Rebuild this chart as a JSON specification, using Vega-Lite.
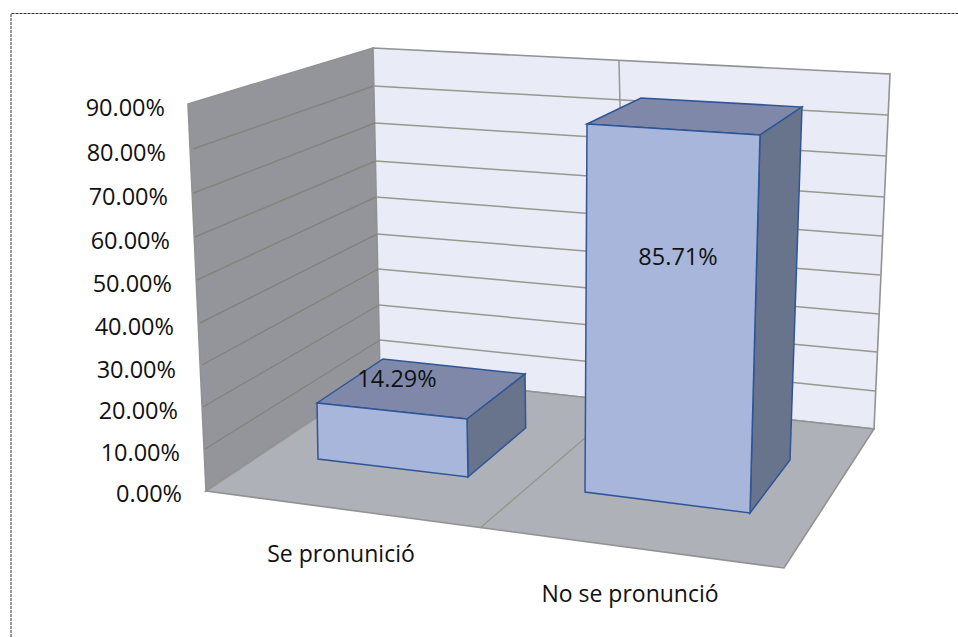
{
"$schema":"https://vega.github.io/schema/vega-lite/v6.json",
"width":958,"height":637,"padding":0,"autosize":{"type":"none"},
"background":"white","view":{"stroke":null},
"config":{"font":"Open Sans"},
"datasets":{
"walls":[
{"face":"left wall","order":1,"x":188,"y":104},{"face":"left wall","order":2,"x":373,"y":48},{"face":"left wall","order":3,"x":380,"y":375},{"face":"left wall","order":4,"x":206,"y":491},
{"face":"back wall","order":1,"x":373,"y":48},{"face":"back wall","order":2,"x":890,"y":74},{"face":"back wall","order":3,"x":874,"y":429},{"face":"back wall","order":4,"x":380,"y":375},
{"face":"floor","order":1,"x":206,"y":491},{"face":"floor","order":2,"x":380,"y":375},{"face":"floor","order":3,"x":874,"y":429},{"face":"floor","order":4,"x":784,"y":568}
],
"gridLeft":[
{"g":"L80","order":1,"x":193,"y":149},{"g":"L80","order":2,"x":373.5,"y":86},
{"g":"L70","order":1,"x":193.5,"y":193},{"g":"L70","order":2,"x":375,"y":123},
{"g":"L60","order":1,"x":195,"y":237},{"g":"L60","order":2,"x":375.7,"y":161},
{"g":"L50","order":1,"x":197,"y":280},{"g":"L50","order":2,"x":376,"y":197},
{"g":"L40","order":1,"x":200,"y":323},{"g":"L40","order":2,"x":377,"y":234},
{"g":"L30","order":1,"x":202,"y":365},{"g":"L30","order":2,"x":378,"y":269},
{"g":"L20","order":1,"x":203,"y":407},{"g":"L20","order":2,"x":379,"y":305},
{"g":"L10","order":1,"x":205,"y":449},{"g":"L10","order":2,"x":380,"y":340}
],
"grid":[
{"g":"B80","order":1,"x":373.5,"y":86},{"g":"B80","order":2,"x":888,"y":115},
{"g":"B70","order":1,"x":375,"y":123},{"g":"B70","order":2,"x":886,"y":156},
{"g":"B60","order":1,"x":375.7,"y":161},{"g":"B60","order":2,"x":884,"y":197},
{"g":"B50","order":1,"x":376,"y":197},{"g":"B50","order":2,"x":882,"y":236},
{"g":"B40","order":1,"x":377,"y":234},{"g":"B40","order":2,"x":880,"y":275},
{"g":"B30","order":1,"x":378,"y":269},{"g":"B30","order":2,"x":879,"y":314},
{"g":"B20","order":1,"x":379,"y":305},{"g":"B20","order":2,"x":877,"y":352},
{"g":"B10","order":1,"x":380,"y":340},{"g":"B10","order":2,"x":875,"y":391},
{"g":"Bmid","order":1,"x":619,"y":61},{"g":"Bmid","order":2,"x":627,"y":402},
{"g":"Fmid","order":1,"x":627,"y":402},{"g":"Fmid","order":2,"x":480,"y":528}
],
"bars":[
{"face":"b1 top","kind":"top","order":1,"x":317,"y":403},{"face":"b1 top","kind":"top","order":2,"x":383,"y":359},{"face":"b1 top","kind":"top","order":3,"x":525,"y":374},{"face":"b1 top","kind":"top","order":4,"x":467,"y":419},
{"face":"b1 side","kind":"side","order":1,"x":467,"y":419},{"face":"b1 side","kind":"side","order":2,"x":525,"y":374},{"face":"b1 side","kind":"side","order":3,"x":525.7,"y":428},{"face":"b1 side","kind":"side","order":4,"x":468,"y":477},
{"face":"b1 front","kind":"front","order":1,"x":317,"y":403},{"face":"b1 front","kind":"front","order":2,"x":467,"y":419},{"face":"b1 front","kind":"front","order":3,"x":468,"y":477},{"face":"b1 front","kind":"front","order":4,"x":318,"y":459},
{"face":"b2 top","kind":"top","order":1,"x":587,"y":124},{"face":"b2 top","kind":"top","order":2,"x":641,"y":98},{"face":"b2 top","kind":"top","order":3,"x":802,"y":107},{"face":"b2 top","kind":"top","order":4,"x":760,"y":135},
{"face":"b2 side","kind":"side","order":1,"x":760,"y":135},{"face":"b2 side","kind":"side","order":2,"x":802,"y":107},{"face":"b2 side","kind":"side","order":3,"x":790,"y":460},{"face":"b2 side","kind":"side","order":4,"x":750,"y":513},
{"face":"b2 front","kind":"front","order":1,"x":587,"y":124},{"face":"b2 front","kind":"front","order":2,"x":760,"y":135},{"face":"b2 front","kind":"front","order":3,"x":750,"y":513},{"face":"b2 front","kind":"front","order":4,"x":585,"y":492}
],
"ticks":[
{"v":0.9,"x":165,"y":107},{"v":0.8,"x":166,"y":152},{"v":0.7,"x":168,"y":196},{"v":0.6,"x":170,"y":240},{"v":0.5,"x":172,"y":283},{"v":0.4,"x":174,"y":326},{"v":0.3,"x":176,"y":369},{"v":0.2,"x":178,"y":410},{"v":0.1,"x":180,"y":452},{"v":0,"x":182,"y":493}
],
"values":[
{"categoria":"Se pronunició","v":0.1429,"x":397,"y":378},
{"categoria":"No se pronunció","v":0.8571,"x":678,"y":256}
],
"cats":[
{"categoria":"Se pronunició","x":341,"y":554},
{"categoria":"No se pronunció","x":630,"y":594}
],
"frame":[
{"order":1,"x":11,"y":637},{"order":2,"x":11,"y":13.5},{"order":3,"x":958,"y":13.5}
]
},
"encoding":{
"x":{"field":"x","type":"quantitative","scale":{"domain":[0,958],"range":[0,958],"nice":false,"zero":false},"axis":null},
"y":{"field":"y","type":"quantitative","scale":{"domain":[0,637],"range":[0,637],"nice":false,"zero":false},"axis":null}
},
"resolve":{"scale":{"fill":"independent"}},
"layer":[
{"data":{"name":"frame"},"mark":{"type":"line","stroke":"#333333","strokeWidth":1,"strokeDash":[3,1],"clip":false},"encoding":{"order":{"field":"order"}}},
{"data":{"name":"walls"},"mark":{"type":"line","interpolate":"linear-closed","strokeWidth":1.6,"stroke":"#929292"},
 "encoding":{"detail":{"field":"face"},"order":{"field":"order"},
 "fill":{"field":"face","type":"nominal","legend":null,"scale":{"domain":["left wall","back wall","floor"],"range":["#94959B","#E9ECF7","#AFB1B8"]}}}},
{"data":{"name":"gridLeft"},"mark":{"type":"line","strokeWidth":1.4,"stroke":"#83837D"},
 "encoding":{"detail":{"field":"g"},"order":{"field":"order"}}},
{"data":{"name":"grid"},"mark":{"type":"line","strokeWidth":1.5,"stroke":"#98988F"},
 "encoding":{"detail":{"field":"g"},"order":{"field":"order"}}},
{"data":{"name":"bars"},"mark":{"type":"line","interpolate":"linear-closed","strokeWidth":1.5,"stroke":"#2F5597"},
 "encoding":{"detail":{"field":"face"},"order":{"field":"order"},
 "fill":{"field":"kind","type":"nominal","legend":null,"scale":{"domain":["top","side","front"],"range":["#7F88A9","#68738C","#A7B6DA"]}}}},
{"data":{"name":"ticks"},"mark":{"type":"text","align":"right","baseline":"middle","dy":1.5,"fontSize":23.5,"font":"Open Sans","fill":"#111111"},
 "encoding":{"text":{"field":"v","type":"quantitative","format":".2%"}}},
{"data":{"name":"values"},"mark":{"type":"text","align":"center","baseline":"middle","dy":1.5,"fontSize":23.5,"font":"Open Sans","fill":"#111111"},
 "encoding":{"text":{"field":"v","type":"quantitative","format":".2%"}}},
{"data":{"name":"cats"},"mark":{"type":"text","align":"center","baseline":"middle","dy":1,"fontSize":23,"font":"Open Sans","fill":"#111111"},
 "encoding":{"text":{"field":"categoria","type":"nominal"}}}
]
}
